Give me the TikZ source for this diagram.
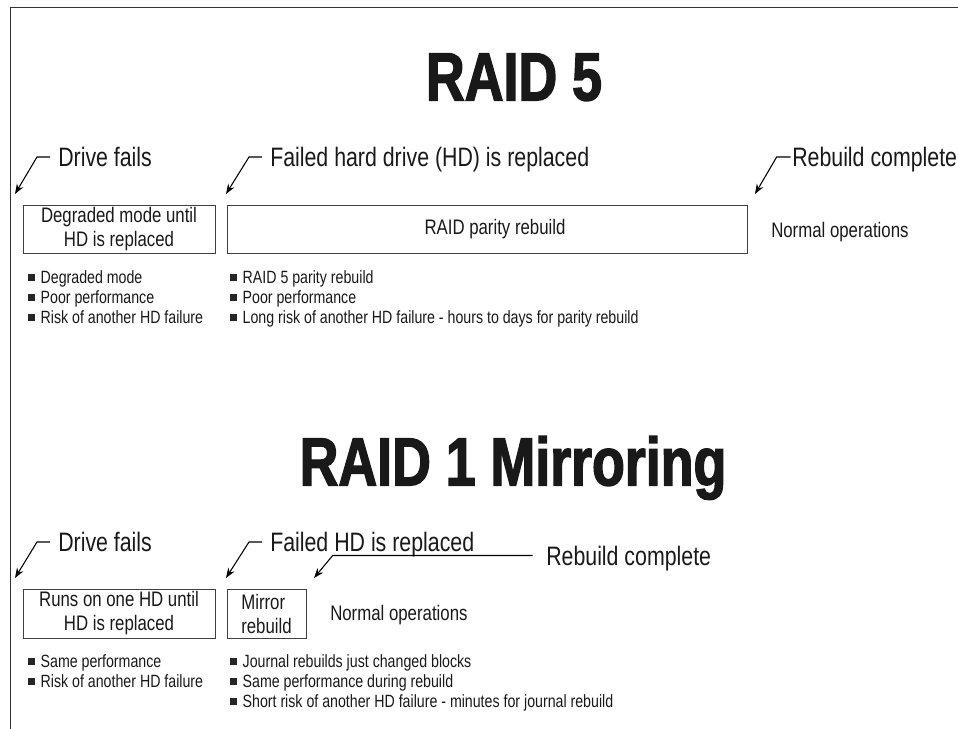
\documentclass[tikz,border=0pt]{standalone}
\usepackage{fontspec}
\setmainfont{Liberation Sans}[FakeStretch=0.8]
\newfontfamily\ttlfont{Liberation Sans}[FakeStretch=0.79,BoldFeatures={FakeBold=2}]
\usetikzlibrary{arrows.meta}

\newcommand\sqbul{\textcolor{black!85}{\rule[0.12em]{0.38em}{0.38em}}\hspace{0.32em}}

\tikzset{
  frame/.style={draw=black!80, line width=0.7pt},
  ttl/.style={inner sep=0pt, text=black!90, font=\ttlfont\bfseries\fontsize{51}{56}\selectfont, text height=36.5pt, text depth=0pt},
  steplbl/.style={anchor=west, inner sep=0pt, text=black!90, font=\fontsize{20}{24}\selectfont, text height=14.3pt, text depth=0pt},
  stagebox/.style={draw=black!75, line width=0.6pt, inner sep=0pt, align=center, text=black!90, font=\fontsize{15.75}{18}\selectfont},
  plain/.style={anchor=west, inner sep=0pt, text=black!90, font=\fontsize{15.75}{18}\selectfont, text height=11.3pt, text depth=0pt},
  bullets/.style={anchor=north west, inner sep=0pt, align=left, text=black!90, font=\fontsize{13.3}{15}\selectfont},
  ptr/.style={draw=black, line width=0.8pt, -{Stealth[length=7.5pt,width=5.5pt]}}
}

\begin{document}
\begin{tikzpicture}[x=0.75pt,y=-0.75pt]
\useasboundingbox (0,0) rectangle (958,729);

% Frame on the left and top
\draw[frame] (10,729) -- (10,7) -- (958,7);

% Titles
\node[ttl] (t5) at (514,76) {RAID 5};
\node[ttl] (t1) at (513,461) {RAID 1 Mirroring};

% RAID 5 stages
\node[stagebox, minimum width=144pt, minimum height=36pt] (degr5) at (119,229) {Degraded mode until\\HD is replaced};
\node[stagebox, minimum width=390pt, minimum height=36pt] (par5) at (487,229) {\hspace*{12pt}RAID parity rebuild};
\node[plain] (norm5) at (771,230) {Normal operations};

% RAID 5 step labels
\node[steplbl] (fail5) at (58,157) {Drive fails};
\node[steplbl] (repl5) at (270,157) {Failed hard drive (HD) is replaced};
\node[steplbl] (done5) at (792,157) {Rebuild complete};

% Arrow tips above the stages
\coordinate (tipA5) at (15,194);
\coordinate (tipB5) at (226,194);
\coordinate (tipC5) at (755,194);

\draw[ptr] ([xshift=-6pt]fail5.west) -- ++(-13,0) -- (tipA5);
\draw[ptr] ([xshift=-6pt]repl5.west) -- ++(-13,0) -- (tipB5);
\draw[ptr] ([xshift=-1pt]done5.west) -- ++(-14,0) -- (tipC5);

% RAID 5 notes
\node[bullets] (list5a) at (28,270) {\sqbul Degraded mode\\ \sqbul Poor performance\\ \sqbul Risk of another HD failure};
\node[bullets] (list5b) at (230,270) {\sqbul RAID 5 parity rebuild\\ \sqbul Poor performance\\ \sqbul Long risk of another HD failure - hours to days for parity rebuild};

% RAID 1 stages
\node[stagebox, minimum width=144pt, minimum height=36.75pt] (run1) at (119,613.5) {Runs on one HD until\\HD is replaced};
\node[stagebox, align=left, minimum width=59.25pt, minimum height=36.75pt] (mir1) at (266.5,613.5) {Mirror\\rebuild};
\node[plain] (norm1) at (330,613) {Normal operations};

% RAID 1 step labels
\node[steplbl] (fail1) at (58,542) {Drive fails};
\node[steplbl] (repl1) at (270,542) {Failed HD is replaced};
\node[steplbl] (done1) at (546,555.5) {Rebuild complete};

\coordinate (tipA1) at (15,578);
\coordinate (tipB1) at (226,578);
\coordinate (tipC1) at (314,578);

\draw[ptr] ([xshift=-6pt]fail1.west) -- ++(-13,0) -- (tipA1);
\draw[ptr] ([xshift=-6pt]repl1.west) -- ++(-13,0) -- (tipB1);
\draw[ptr] ([xshift=-10pt]done1.west) -- ++(-200,0) -- (tipC1);

% RAID 1 notes
\node[bullets] (list1a) at (28,654) {\sqbul Same performance\\ \sqbul Risk of another HD failure};
\node[bullets] (list1b) at (230,654) {\sqbul Journal rebuilds just changed blocks\\ \sqbul Same performance during rebuild\\ \sqbul Short risk of another HD failure - minutes for journal rebuild};

\end{tikzpicture}
\end{document}
